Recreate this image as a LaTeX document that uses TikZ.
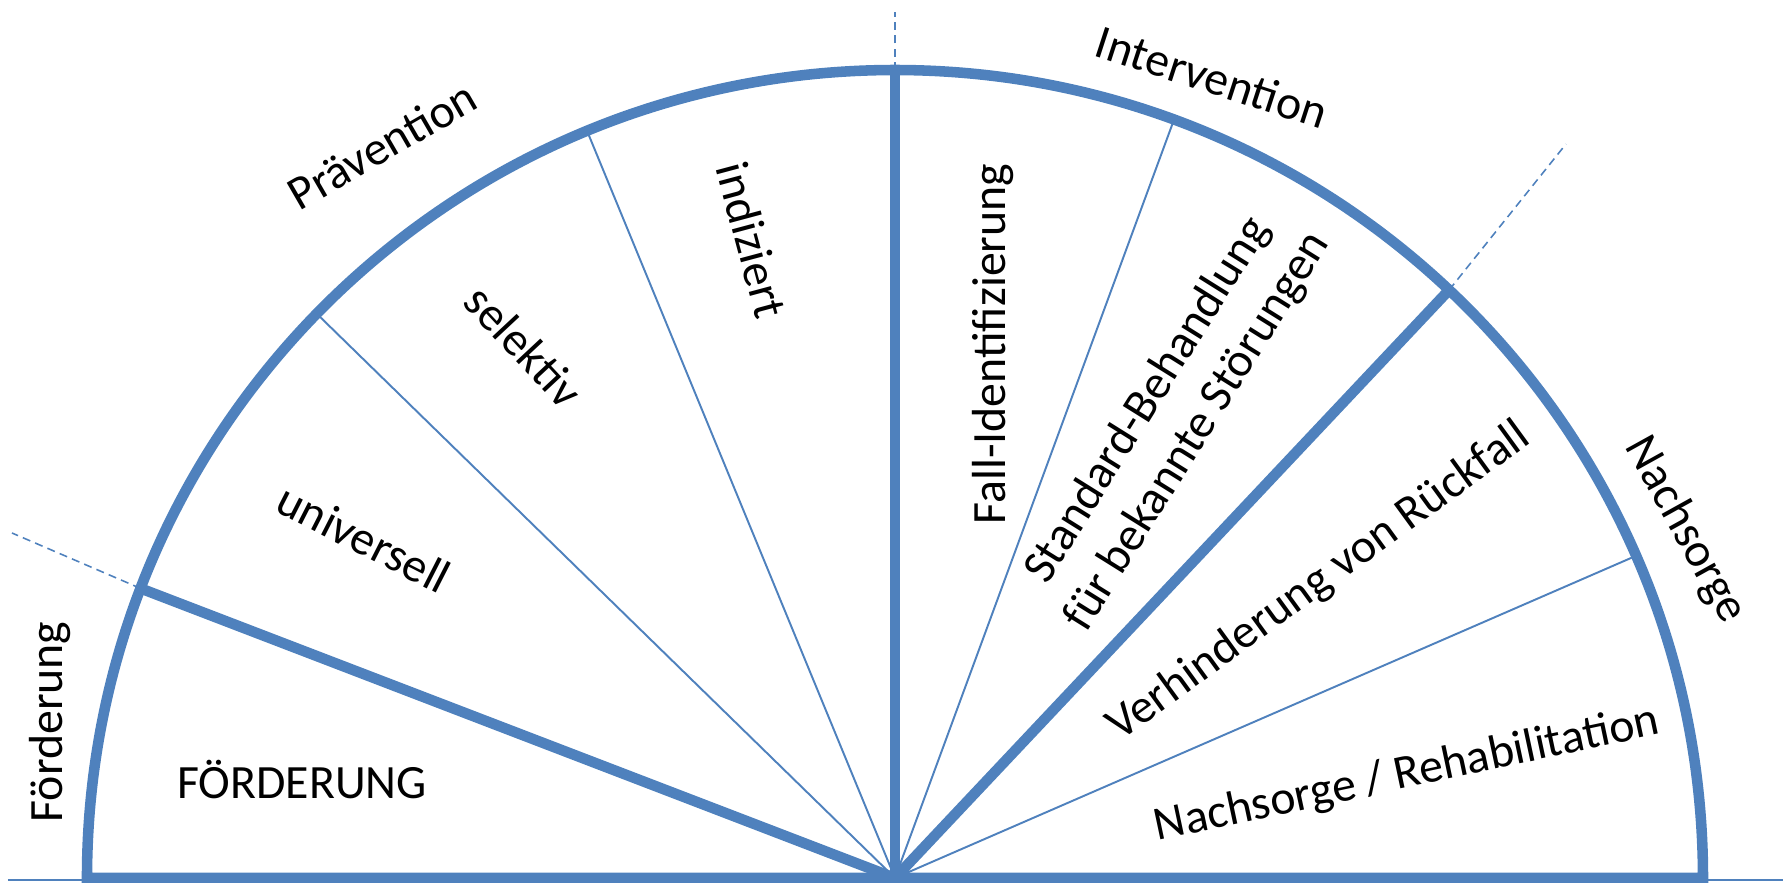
\documentclass[tikz,border=0pt]{standalone}
\usepackage{fontspec}
\setmainfont{Carlito}
\definecolor{ringblue}{HTML}{4F81BD}

\begin{document}
\begin{tikzpicture}[
        every node/.style={font=\fontsize{13.6}{16.6}\selectfont, align=center, inner sep=0pt},
        rim/.style={ringblue, line width=3pt},
        bigspoke/.style={ringblue, line width=3pt},
        spoke/.style={ringblue, line width=0.55pt},
        guide/.style={ringblue, line width=0.45pt, dash pattern=on 2.3pt off 1.5pt}
      ]
        \useasboundingbox (-8.95,-0.04) rectangle (8.88,8.78);
        \coordinate (O) at (0,0);
        \coordinate (baseL) at (-8.87,-0.02);
        \coordinate (baseR) at (8.88,-0.02);

        % Points on the rim
        \coordinate (pfoe) at (159:8.08);
        \coordinate (puni) at (135.7:8.08);
        \coordinate (psel) at (112.4:8.08);
        \coordinate (ptop) at (90:8.08);
        \coordinate (pfall) at (69.8:8.08);
        \coordinate (pnach) at (46.7:8.08);
        \coordinate (preha) at (23.5:8.08);

        % Outer ends of the dashed guides
        \coordinate (gfoe) at (-8.83,3.45);
        \coordinate (gtop) at (90:8.66);
        \coordinate (gnach) at (6.71,7.34);

        % Ground line and rim
        \draw[spoke] (baseL) -- (baseR);
        \draw[rim] (-8.08,0) arc (180:0:8.08) -- cycle;

        % Thin spokes (sub sectors)
        \foreach \p in {puni, psel, pfall, preha}
          \draw[spoke] (O) -- (\p);

        % Thick spokes (main sectors)
        \foreach \p in {pfoe, ptop, pnach}
          \draw[bigspoke] (O) -- (\p);

        % Dashed guides
        \draw[guide] (pfoe) -- (gfoe);
        \draw[guide] (ptop) -- (gtop);
        \draw[guide] (pnach) -- (gnach);

        % Outer labels
        \node[rotate=90] (lfoe) at (-8.45,1.56) {Förderung};
        \node[rotate=30] (lpraev) at (-5.13,7.33) {Prävention};
        \node[rotate=-18] (linter) at (3.17,8.01) {Intervention};
        \node[rotate=-61] (lnach) at (7.90,3.48) {Nachsorge};

        % Inner labels
        \node (sfoe) at (-5.93,0.99) {FÖRDERUNG};
        \node[rotate=-27] (suni) at (-5.31,3.40) {universell};
        \node[rotate=-47] (ssel) at (-3.71,5.32) {selektiv};
        \node[rotate=-75] (sind) at (-1.43,6.38) {indiziert};
        \node[rotate=90] (sfall) at (0.98,5.34) {Fall-Identifizierung};
        \node[rotate=58] (sstd) at (2.78,4.62) {Standard-Behandlung\\für bekannte Störungen};
        \node[rotate=36] (sverh) at (4.24,2.96) {Verhinderung von Rückfall};
        \node[rotate=12] (sreha) at (5.12,1.03) {Nachsorge / Rehabilitation};

    \end{tikzpicture}
\end{document}
